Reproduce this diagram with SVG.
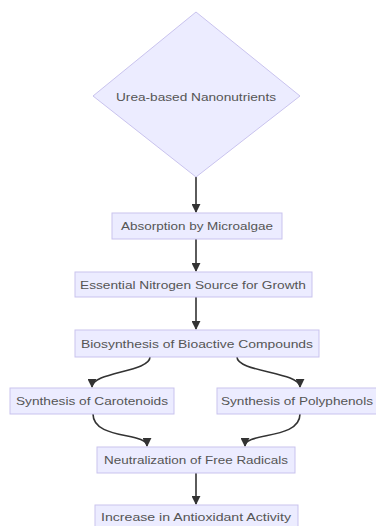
<svg xmlns="http://www.w3.org/2000/svg" width="376" height="526" viewBox="0 0 376 526">
<style>
.n{fill:#ECECFF;stroke:#C9C3EE;stroke-width:1}
.t{font-family:"Liberation Sans",Arial,sans-serif;font-size:11.5px;fill:#555;text-anchor:middle;dominant-baseline:central}
.e{fill:none;stroke:#333;stroke-width:1.6}
</style>
<defs>
<marker id="ah" viewBox="0 0 10 10" refX="9" refY="5" markerWidth="9" markerHeight="9" orient="auto-start-reverse" markerUnits="userSpaceOnUse"><path d="M0,0L10,5L0,10z" fill="#333"/></marker>
</defs>
<rect width="376" height="526" fill="#fff"/>
<g id="edges">
<path class="e" d="M196,177 L196,212" marker-end="url(#ah)"/>
<path class="e" d="M196,239 L196,271" marker-end="url(#ah)"/>
<path class="e" d="M196,297 L196,329" marker-end="url(#ah)"/>
<path class="e" d="M150,357 C150,372 92,372 92,387" marker-end="url(#ah)"/>
<path class="e" d="M237,357 C237,372 300,372 300,387" marker-end="url(#ah)"/>
<path class="e" d="M93,414 C93,440 147,432 147,446" marker-end="url(#ah)"/>
<path class="e" d="M300,414 C300,440 245,432 245,446" marker-end="url(#ah)"/>
<path class="e" d="M196,473 L196,504" marker-end="url(#ah)"/>
</g>
<g id="n1"><polygon class="n" points="196,12 300,96 196,177 93,96"/><text class="t" x="196" y="97" textLength="160" lengthAdjust="spacingAndGlyphs">Urea-based Nanonutrients</text></g>
<g id="n2"><rect class="n" x="112" y="213" width="170" height="26"/><text class="t" x="197" y="226" textLength="152" lengthAdjust="spacingAndGlyphs">Absorption by Microalgae</text></g>
<g id="n3"><rect class="n" x="75" y="272" width="237" height="25"/><text class="t" x="193" y="284.5" textLength="226" lengthAdjust="spacingAndGlyphs">Essential Nitrogen Source for Growth</text></g>
<g id="n4"><rect class="n" x="75" y="330" width="244" height="27"/><text class="t" x="197" y="343.5" textLength="232" lengthAdjust="spacingAndGlyphs">Biosynthesis of Bioactive Compounds</text></g>
<g id="n5"><rect class="n" x="10" y="388" width="164" height="26"/><text class="t" x="92" y="401" textLength="152" lengthAdjust="spacingAndGlyphs">Synthesis of Carotenoids</text></g>
<g id="n6"><rect class="n" x="217" y="388" width="164" height="26"/><text class="t" x="297" y="401" textLength="152" lengthAdjust="spacingAndGlyphs">Synthesis of Polyphenols</text></g>
<g id="n7"><rect class="n" x="97" y="447" width="198" height="26"/><text class="t" x="196" y="460" textLength="184" lengthAdjust="spacingAndGlyphs">Neutralization of Free Radicals</text></g>
<g id="n8"><rect class="n" x="95" y="505" width="203" height="26"/><text class="t" x="196" y="517" textLength="190" lengthAdjust="spacingAndGlyphs">Increase in Antioxidant Activity</text></g>
</svg>
